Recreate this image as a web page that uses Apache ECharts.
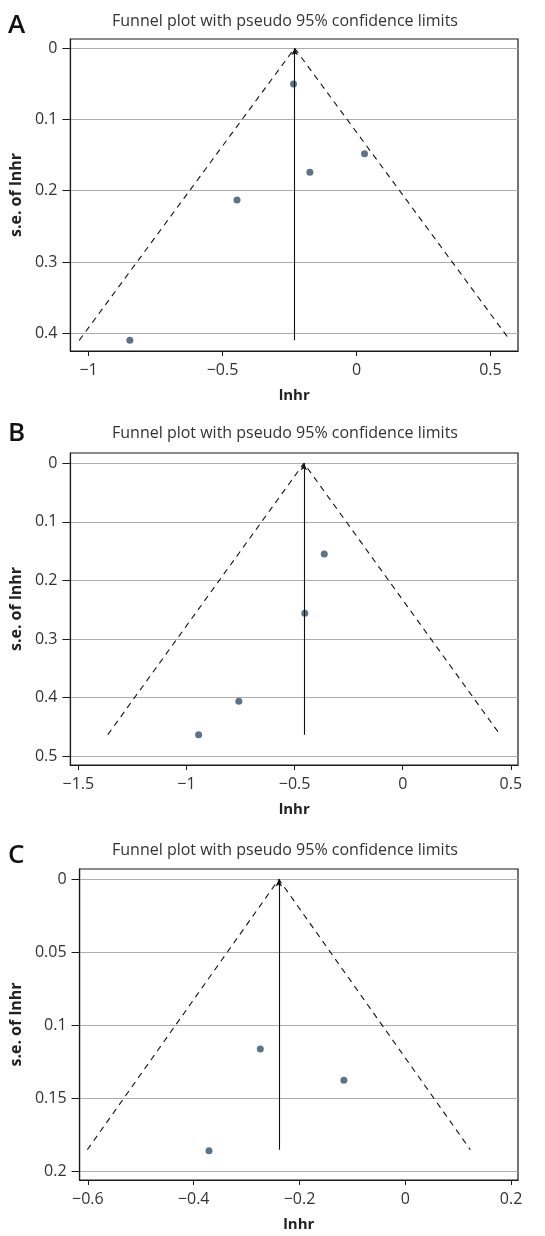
<!DOCTYPE html>
<html>
<head>
<meta charset="utf-8">
<script src="https://cdn.jsdelivr.net/npm/echarts@6/dist/echarts.min.js"></script>
<style>
  html, body { margin: 0; padding: 0; background: #fff; }
  #chart { width: 545px; height: 1236px; }
</style>
</head>
<body>
<div id="chart"></div>
<script>
// panel A
const lnhrA = [-0.235, 0.030, -0.174, -0.446, -0.846];
const seA = [0.050, 0.148, 0.174, 0.213, 0.410];
const pooledA = -0.231;
const seMaxA = 0.41;
const limitsA = [-1.035, 0.573];
const xTicksA = [-1, -0.5, 0, 0.5];
const yTicksA = [0, 0.1, 0.2, 0.3, 0.4];

// panel B
const lnhrB = [-0.363, -0.453, -0.758, -0.944];
const seB = [0.155, 0.256, 0.406, 0.463];
const pooledB = -0.457;
const seMaxB = 0.463;
const limitsB = [-1.364, 0.45];
const xTicksB = [-1.5, -1, -0.5, 0, 0.5];
const yTicksB = [0, 0.1, 0.2, 0.3, 0.4, 0.5];

// panel C
const lnhrC = [-0.274, -0.116, -0.371];
const seC = [0.116, 0.1375, 0.1857];
const pooledC = -0.239;
const seMaxC = 0.185;
const limitsC = [-0.601, 0.123];
const xTicksC = [-0.6, -0.4, -0.2, 0, 0.2];
const yTicksC = [0, 0.05, 0.1, 0.15, 0.2];

const titleText = "Funnel plot with pseudo 95% confidence limits";
const font = "'Open Sans', 'DejaVu Sans', sans-serif";

// box layout of each panel (px) and axis extents
const panels = [
  { letter: "A", top: 39, height: 312, xMin: -1.068, xMax: 0.603, yMin: -0.013, yMax: 0.425,
    lnhr: lnhrA, se: seA, pooled: pooledA, seMax: seMaxA, limits: limitsA, xTicks: xTicksA, yTicks: yTicksA,
    titleY: 21, letterY: 26 },
  { letter: "B", top: 453, height: 312, xMin: -1.537, xMax: 0.533, yMin: -0.0175, yMax: 0.5148,
    lnhr: lnhrB, se: seB, pooled: pooledB, seMax: seMaxB, limits: limitsB, xTicks: xTicksB, yTicks: yTicksB,
    titleY: 433, letterY: 434 },
  { letter: "C", top: 869, height: 311, xMin: -0.6157, xMax: 0.2131, yMin: -0.0071, yMax: 0.2057,
    lnhr: lnhrC, se: seC, pooled: pooledC, seMax: seMaxC, limits: limitsC, xTicks: xTicksC, yTicks: yTicksC,
    titleY: 850, letterY: 856 }
];

const fmt = v => String(v).replace("-", "\u2212");

const grid = [], xAxis = [], yAxis = [], series = [], graphic = [];

panels.forEach((p, i) => {
  grid.push({
    left: 58, width: 460, top: p.top, height: p.height,
    show: true, borderColor: "#1a1a1a", borderWidth: 1.2, containLabel: false
  });
  xAxis.push({
    gridIndex: i, type: "value", min: p.xMin, max: p.xMax,
    name: "lnhr", nameLocation: "middle", nameGap: 37,
    nameTextStyle: { fontFamily: font, fontSize: 15, fontWeight: "bold", color: "#222" },
    axisLine: { show: true, onZero: false, lineStyle: { color: "#1a1a1a", width: 1.2 } },
    axisTick: { show: true, length: 5, customValues: p.xTicks, lineStyle: { color: "#1a1a1a" } },
    axisLabel: { customValues: p.xTicks, margin: 11, fontFamily: font, fontSize: 16, color: "#333", formatter: fmt },
    splitLine: { show: false }
  });
  yAxis.push({
    gridIndex: i, type: "value", inverse: true, min: p.yMin, max: p.yMax,
    name: "s.e. of lnhr", nameLocation: "middle", nameGap: 36,
    nameTextStyle: { fontFamily: font, fontSize: 16, fontWeight: "bold", color: "#222" },
    axisLine: { show: true, onZero: false, lineStyle: { color: "#1a1a1a", width: 1.2 } },
    axisTick: { show: true, length: 8, customValues: p.yTicks, lineStyle: { color: "#1a1a1a" } },
    axisLabel: { customValues: p.yTicks, margin: 13, fontFamily: font, fontSize: 16, color: "#333", formatter: fmt },
    splitLine: { show: true, lineStyle: { color: "#adadad", width: 1 } }
  });
  // pseudo 95% limits
  series.push({
    type: "line", xAxisIndex: i, yAxisIndex: i, symbol: "none", silent: true,
    lineStyle: { color: "#111", width: 1.1, type: [6, 5] },
    data: [[p.limits[0], p.seMax], [p.pooled, 0], [p.limits[1], p.seMax]],
    z: 3
  });
  // pooled estimate with arrow
  series.push({
    type: "line", xAxisIndex: i, yAxisIndex: i, symbol: "none", data: [],
    markLine: {
      silent: true, animation: false,
      symbol: ["none", "arrow"], symbolSize: [5, 7],
      label: { show: false },
      lineStyle: { color: "#111", width: 1.1, type: "solid" },
      data: [[{ coord: [p.pooled, p.seMax] }, { coord: [p.pooled, 0] }]]
    },
    z: 3
  });
  // studies
  series.push({
    type: "scatter", xAxisIndex: i, yAxisIndex: i, symbolSize: 7,
    itemStyle: { color: "#34506e" },
    data: p.lnhr.map((x, k) => [x, p.se[k]]),
    z: 4
  });
  graphic.push({
    type: "text", x: 285, y: p.titleY,
    style: { text: titleText, fontFamily: font, fontSize: 16, fill: "#333", textAlign: "center", textVerticalAlign: "middle" }
  });
  graphic.push({
    type: "text", x: 8, y: p.letterY,
    style: { text: p.letter, fontFamily: font, fontSize: 26, fontWeight: 600, fill: "#111", textAlign: "left", textVerticalAlign: "middle" }
  });
});

const chart = echarts.init(document.getElementById("chart"), null, { renderer: "canvas" });
chart.setOption({
  animation: false,
  grid: grid,
  xAxis: xAxis,
  yAxis: yAxis,
  series: series,
  graphic: graphic
});
</script>
</body>
</html>
